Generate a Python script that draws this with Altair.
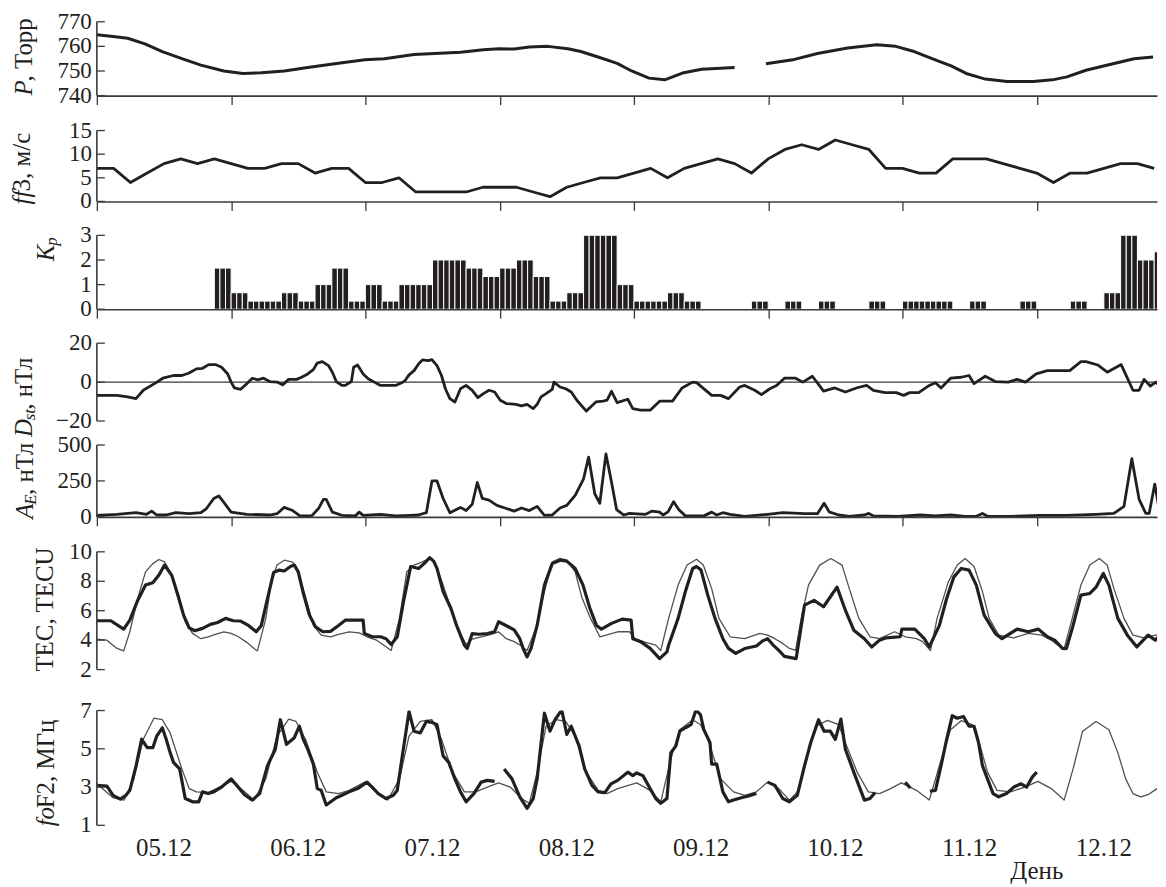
import altair as alt
import pandas as pd

# ---------------- data (time in hours from 05.12 00 UT) ----------------
DAY_LABELS = ['05.12', '06.12', '07.12', '08.12', '09.12', '10.12', '11.12', '12.12']
X_TITLE = 'День'

P_SEG1 = [(0.0, 764.7), (2.9, 764.0), (5.5, 763.3), (8.6, 761.0), (11.7, 757.9), (15.2, 755.0), (18.6, 752.4),
          (22.7, 750.0), (26.1, 749.0), (29.4, 749.3), (33.5, 750.0), (37.7, 751.4), (42.5, 752.9), (47.9, 754.6),
          (51.4, 755.0), (56.7, 756.7), (65.0, 757.6), (69.1, 758.6), (71.9, 759.0), (74.6, 758.9), (77.3, 759.7),
          (80.6, 760.0), (84.2, 759.0), (86.5, 757.9), (89.6, 755.7), (93.0, 753.1), (95.6, 750.0), (98.7, 747.1),
          (101.5, 746.4), (104.9, 749.3), (108.1, 750.7), (111.5, 751.1), (114.0, 751.4)]
P_SEG2 = [(119.6, 752.9), (124.7, 754.7), (128.8, 757.1), (134.2, 759.3), (139.4, 760.7), (142.8, 760.0),
          (146.1, 757.9), (150.1, 754.3), (152.7, 752.1), (155.4, 749.0), (158.8, 746.7), (162.7, 745.7),
          (167.4, 745.7), (170.8, 746.4), (173.4, 747.6), (176.8, 750.3), (180.7, 752.4), (185.4, 755.0),
          (188.8, 755.7)]

# wind speed, 3-hourly
FF3 = [7, 7, 4, 6, 8, 9, 8, 9, 8, 7, 7, 8, 8, 6, 7, 7, 4, 4, 5, 2, 2, 2, 2, 3, 3, 3, 2, 1, 3, 4,
       5, 5, 6, 7, 5, 7, 8, 9, 8, 6, 9, 11, 12, 11, 13, 12, 11, 7, 7, 6, 6, 9, 9, 9, 8, 7, 6, 4, 6, 6,
       7, 8, 8, 7]

# Kp, 3-hourly
KP = [0, 0, 0, 0, 0, 0, 0, 1.67, 0.67, 0.33, 0.33, 0.67, 0.33, 1.0, 1.67, 0.33, 1.0, 0.33, 1.0, 1.0,
      2.0, 2.0, 1.67, 1.33, 1.67, 2.0, 1.33, 0.33, 0.67, 3.0, 3.0, 1.0, 0.33, 0.33, 0.67, 0.33,
      0, 0, 0, 0.33, 0, 0.33, 0, 0.33, 0, 0, 0.33, 0, 0.33, 0.33, 0.33, 0, 0.33, 0, 0, 0.33, 0, 0,
      0.33, 0, 0.67, 3.0, 2.0, 2.33]

DST = [(0.0, -6.8), (3.6, -6.8), (5.5, -7.6), (7.0, -8.5), (8.3, -4.2), (10.3, -0.8), (11.8, 2), (13.7, 3.4),
       (15.2, 3.4), (16.5, 4.7), (17.8, 6.8), (18.9, 7.1), (20.0, 9), (21.2, 9), (22.3, 7.6), (23.4, 4.2),
       (24.0, 0), (24.6, -3), (25.7, -3.7), (26.8, -0.8), (27.8, 2), (28.7, 1.2), (29.8, 2), (30.9, 0.3),
       (32.2, 0), (33.2, -1.4), (34.3, 1.4), (35.7, 1.4), (36.6, 2.5), (37.7, 4.2), (38.7, 6.4), (39.4, 9.8),
       (40.3, 10.5), (41.4, 8.5), (42.1, 5.1), (42.8, 0.3), (43.8, -1.7), (44.4, -1.7), (45.5, 0.3),
       (45.9, 7.6), (46.6, 8.8), (47.6, 4.2), (48.5, 1.7), (49.6, 0), (50.7, -1.7), (52.0, -1.7),
       (53.4, -1.7), (54.4, -0.5), (55.1, 0.8), (55.8, 3.7), (56.7, 5.9), (57.5, 9.3), (58.2, 11.4),
       (59.2, 11), (59.9, 11.5), (60.8, 8.5), (61.6, 3.4), (62.3, -3.4), (63.1, -8.5), (64.0, -10.2),
       (65.0, -3.4), (66.0, -1.7), (67.1, -4.2), (68.1, -8), (69.1, -5.9), (70.1, -4.2), (71.1, -5.1),
       (72.1, -9.3), (73.2, -11), (74.9, -11.4), (75.9, -12.2), (76.9, -11.4), (78.0, -13.6), (78.7, -11.4),
       (79.4, -7.6), (80.3, -5.9), (81.4, -3.7), (81.7, 0), (82.8, -2.5), (83.8, -3.4), (84.8, -5.1),
       (85.8, -9.3), (87.5, -14.9), (89.2, -10.2), (90.5, -9.8), (91.2, -9.3), (92.0, -4.7), (93.0, -10.5),
       (94.9, -8.8), (95.8, -13.6), (97.2, -14.4), (98.9, -14.4), (100.6, -9.8), (102.9, -9.8), (104.6, -3),
       (106.5, 0), (107.2, -0.3), (109.9, -6.8), (111.5, -6.8), (112.9, -8.5), (114.9, -2.5), (115.8, -1.7),
       (117.6, -4.2), (118.8, -6.4), (120.3, -3.4), (121.5, -1.7), (122.9, 2), (124.9, 2), (126.2, 0),
       (127.9, 3), (129.9, -4.6), (131.9, -3), (133.8, -5.1), (135.9, -2.9), (137.6, -1.7), (138.8, -4.2),
       (140.9, -5.4), (142.9, -5.4), (144.2, -6.8), (145.3, -5.4), (146.9, -5.4), (148.8, -1.7),
       (149.9, -0.3), (150.9, -3), (152.6, 2), (154.5, 2.5), (155.9, 3.4), (156.8, -0.8), (158.8, 3),
       (160.6, 0.3), (162.9, 0), (164.5, 1.4), (166.0, 0), (167.9, 4.2), (169.9, 5.9), (173.9, 5.9),
       (175.9, 10.5), (176.8, 10.5), (178.9, 8.8), (180.6, 5.1), (183.1, 9), (185.2, -4.2), (186.3, -4.2),
       (187.2, 1.4), (188.3, -2), (189.3, 0), (191.1, -5.1)]

AE = [(0.0, 11), (3.6, 18), (7.0, 29), (8.9, 18), (9.8, 40), (10.7, 13), (12.4, 13), (14.1, 29), (16.5, 22),
      (18.6, 29), (19.6, 58), (20.9, 128), (21.8, 146), (22.6, 106), (24.0, 33), (26.8, 18), (30.9, 13),
      (32.2, 22), (33.5, 66), (35.0, 44), (36.3, 7), (38.4, 7), (39.7, 62), (40.5, 122), (41.0, 122),
      (42.1, 33), (43.8, 11), (46.2, 7), (46.9, 33), (47.6, 11), (50.7, 18), (53.4, 7), (56.1, 11),
      (57.5, 13), (58.9, 29), (59.9, 250), (60.8, 250), (61.9, 128), (63.1, 29), (65.0, 66), (66.0, 44),
      (67.1, 88), (68.0, 239), (68.9, 128), (70.1, 117), (71.5, 80), (73.2, 58), (74.6, 40), (75.9, 62),
      (77.3, 44), (78.7, 73), (80.0, 11), (81.4, 13), (82.8, 62), (84.0, 80), (85.5, 150), (87.0, 265),
      (87.9, 416), (89.0, 161), (89.9, 95), (91.0, 438), (91.9, 261), (92.9, 51), (94.2, 13), (95.2, 24),
      (98.1, 18), (99.2, 40), (100.6, 33), (101.2, 13), (102.1, 35), (103.1, 106), (104.0, 51), (105.2, 7),
      (108.5, 7), (109.9, 33), (110.8, 13), (111.9, 29), (113.2, 18), (115.8, 4), (119.9, 18), (122.6, 29),
      (126.5, 22), (128.8, 22), (130.0, 95), (130.9, 35), (132.6, 13), (134.5, 4), (137.2, 13), (138.0, 24),
      (138.8, 7), (143.2, 4), (147.2, 13), (149.9, 7), (152.6, 13), (155.2, 4), (157.2, 4), (158.3, 24),
      (159.2, 4), (163.3, 4), (168.6, 11), (173.3, 11), (178.6, 18), (181.8, 24), (183.6, 73), (185.0, 405),
      (186.3, 122), (187.5, 24), (188.1, 24), (189.1, 228), (189.8, 73), (191.1, 51)]

TEC_OBS = [(0.0, 5.32), (2.5, 5.32), (4.8, 4.75), (5.9, 5.36), (7.3, 6.7), (8.7, 7.74), (10.0, 7.9), (11.1, 8.42),
           (12.1, 9.1), (13.4, 8.4), (14.5, 7.06), (15.5, 5.7), (16.5, 4.84), (17.5, 4.64), (18.9, 4.8),
           (20.3, 5.07), (21.6, 5.2), (23.0, 5.48), (24.4, 5.32), (25.7, 5.3), (27.1, 5.0), (28.5, 4.57),
           (29.4, 5.0), (30.5, 6.83), (31.6, 8.6), (32.6, 8.76), (33.5, 8.7), (34.6, 9.0), (35.3, 9.1),
           (36.0, 8.64), (36.9, 7.2), (38.0, 5.7), (39.1, 4.9), (40.4, 4.57), (41.8, 4.6), (43.2, 5.0),
           (44.4, 5.36), (46.6, 5.36), (47.6, 5.36), (47.8, 4.46), (49.2, 4.23), (50.7, 4.23), (51.7, 4.1),
           (52.6, 3.7), (53.7, 4.23), (54.8, 6.6), (56.1, 9.0), (57.5, 8.87), (58.5, 9.2), (59.5, 9.6),
           (60.2, 9.37), (60.8, 8.87), (61.9, 7.3), (63.3, 6.15), (64.3, 5.0), (65.7, 3.66), (66.2, 3.43),
           (67.1, 4.45), (68.3, 4.4), (69.8, 4.45), (71.1, 4.57), (71.8, 5.25), (73.2, 4.98), (74.6, 4.7),
           (75.6, 4.1), (76.2, 3.43), (76.9, 2.86), (77.6, 3.43), (78.7, 5.0), (80.0, 7.74), (81.4, 9.2),
           (82.8, 9.43), (84.0, 9.37), (85.5, 8.87), (86.9, 7.74), (88.1, 6.2), (89.3, 5.0), (90.2, 4.75),
           (92.0, 5.14), (93.9, 5.43), (95.5, 5.36), (95.8, 4.1), (97.2, 3.9), (98.9, 3.44), (100.6, 2.75),
           (101.9, 3.2), (102.2, 3.66), (103.9, 5.48), (105.2, 7.3), (106.5, 8.87), (107.2, 9.0), (108.0, 8.76),
           (109.2, 7.06), (110.5, 5.48), (111.9, 4.1), (112.9, 3.44), (114.2, 3.1), (115.8, 3.43), (117.9, 3.6),
           (119.0, 3.95), (119.9, 4.1), (120.8, 3.7), (121.9, 3.3), (122.9, 2.9), (125.0, 2.75), (126.5, 6.38),
           (128.2, 6.7), (129.9, 6.27), (132.3, 7.6), (133.9, 5.93), (135.3, 4.68), (137.2, 4.1), (138.5, 3.54),
           (139.9, 4.0), (141.1, 4.16), (143.6, 4.23), (143.9, 4.75), (146.2, 4.75), (147.9, 4.1), (148.8, 3.54),
           (150.6, 5.0), (151.9, 6.83), (153.2, 8.3), (154.5, 8.87), (155.9, 8.76), (157.2, 7.74), (158.6, 5.7),
           (160.6, 4.46), (161.8, 4.1), (164.5, 4.75), (166.5, 4.57), (168.3, 4.75), (169.9, 4.23), (171.2, 4.0),
           (172.6, 3.44), (173.3, 3.43), (174.5, 5.0), (175.9, 7.06), (177.5, 7.17), (178.6, 7.6), (179.9, 8.53),
           (180.9, 7.74), (182.5, 5.48), (184.2, 4.34), (185.9, 3.54), (187.9, 4.34), (189.2, 4.0), (190.2, 4.46),
           (191.1, 4.57)]

TEC_MED = [(0.0, 4.07), (1.8, 4.0), (3.6, 3.44), (4.8, 3.27), (5.9, 4.57), (7.3, 6.83), (8.7, 8.64), (10.0, 9.2),
           (11.1, 9.48), (12.1, 9.32), (13.1, 8.64), (14.5, 6.83), (15.8, 5.25), (17.1, 4.46), (18.6, 4.1),
           (19.9, 4.23), (21.2, 4.4), (22.7, 4.57), (24.0, 4.46), (25.3, 4.23), (26.8, 3.85), (28.1, 3.44),
           (28.7, 3.27), (30.2, 5.48), (31.2, 7.96), (32.2, 9.1), (33.5, 9.43), (35.0, 9.3), (36.3, 8.3),
           (37.7, 6.38), (38.7, 5.0), (40.1, 4.34), (41.8, 4.23), (43.2, 4.4), (45.1, 4.57), (46.9, 4.5),
           (48.3, 4.23), (50.0, 4.0), (51.3, 3.66), (52.6, 3.3), (54.1, 5.48), (55.4, 8.64), (56.7, 9.1),
           (58.2, 9.32), (59.5, 9.55), (60.5, 9.2), (61.9, 7.74), (63.3, 6.15), (64.6, 4.8), (65.2, 4.3),
           (66.0, 3.7), (67.1, 4.07), (68.7, 4.23), (70.5, 4.4), (71.8, 4.57), (73.2, 4.1), (74.6, 3.9),
           (75.9, 3.6), (76.9, 3.3), (78.7, 5.0), (80.0, 7.3), (81.4, 9.32), (82.8, 9.55), (84.0, 9.43),
           (85.5, 8.64), (86.7, 6.9), (88.1, 5.6), (89.9, 4.23), (93.1, 4.57), (95.2, 4.57), (96.2, 4.1),
           (98.1, 3.85), (99.9, 3.66), (100.8, 3.3), (102.2, 5.48), (103.9, 7.74), (105.5, 9.1), (107.2, 9.5),
           (108.4, 9.1), (109.9, 7.5), (111.2, 5.48), (113.2, 4.23), (115.8, 4.1), (118.5, 4.46), (119.9, 4.34),
           (121.2, 4.1), (122.6, 3.78), (123.8, 3.44), (124.9, 3.3), (125.9, 5.48), (127.2, 7.74), (129.2, 9.1),
           (131.2, 9.55), (133.2, 9.1), (134.5, 7.5), (136.2, 5.48), (138.2, 4.23), (139.9, 4.1), (142.6, 4.57),
           (144.5, 4.23), (146.5, 4.1), (147.6, 3.9), (149.0, 3.3), (150.2, 5.48), (152.2, 7.96), (153.8, 9.1),
           (155.2, 9.55), (156.8, 9.0), (158.3, 7.3), (159.5, 5.48), (161.2, 4.34), (163.9, 4.16), (166.5, 4.46),
           (168.9, 4.34), (170.6, 4.0), (171.8, 3.66), (172.9, 3.43), (174.5, 5.7), (175.9, 7.74), (177.5, 9.1),
           (179.2, 9.55), (180.6, 9.1), (181.8, 7.5), (183.6, 5.48), (185.2, 4.34), (187.2, 4.16), (189.2, 4.34),
           (191.1, 4.57)]

FOF2_OBS = [
    [(0.0, 3.09), (1.8, 3.05), (2.9, 2.57), (4.2, 2.37), (5.2, 2.57), (5.9, 2.83), (7.0, 4.1), (8.0, 5.5),
     (9.0, 5.06), (10.0, 5.06), (10.7, 5.66), (11.7, 6.1), (12.4, 5.5), (13.1, 4.8), (13.7, 4.29), (14.8, 3.95),
     (15.8, 2.4), (17.1, 2.23), (18.2, 2.23), (18.9, 2.75), (19.9, 2.66), (20.9, 2.75), (22.3, 3.0), (24.0, 3.43),
     (25.0, 3.09), (26.4, 2.6), (27.8, 2.32), (29.1, 2.66), (30.5, 4.12), (31.9, 4.98), (32.8, 6.52), (33.9, 5.23),
     (35.3, 5.58), (36.2, 6.18), (36.9, 5.5), (37.7, 4.98), (38.7, 4.2), (39.4, 2.92), (40.1, 2.83), (41.0, 2.06),
     (42.8, 2.44), (43.8, 2.57), (45.1, 2.75), (46.6, 2.92), (48.3, 3.26), (49.2, 3.0), (50.3, 2.66), (51.7, 2.4),
     (53.0, 2.57), (53.7, 2.83), (54.6, 4.63), (55.8, 6.95), (56.7, 5.92), (57.8, 5.83), (58.9, 6.43), (59.9, 6.38),
     (60.8, 6.26), (61.9, 4.63), (62.9, 4.29), (64.0, 3.43), (65.0, 2.75), (66.0, 2.23), (67.4, 2.66), (68.7, 3.26),
     (69.8, 3.35), (71.1, 3.3)],
    [(72.8, 3.95), (74.2, 3.43), (75.6, 2.49), (76.9, 1.89), (78.0, 2.4), (78.7, 3.43), (80.0, 6.86), (81.0, 5.92),
     (81.9, 6.52), (83.1, 7.03), (84.0, 5.75), (84.8, 6.18), (86.2, 5.15), (87.2, 3.95), (88.5, 3.09), (89.6, 2.75),
     (90.8, 2.71), (91.9, 3.17), (93.1, 3.35), (94.9, 3.78), (95.8, 3.6), (96.5, 3.74), (97.6, 3.6), (98.9, 2.92),
     (99.9, 2.4), (100.8, 2.15), (101.9, 2.4), (102.6, 4.8), (103.5, 5.15), (104.2, 5.92), (105.2, 6.1),
     (106.2, 6.26), (107.1, 7.03), (107.9, 6.78), (108.5, 6.0), (109.6, 5.32), (109.9, 4.2), (110.8, 4.2),
     (111.9, 2.75), (112.9, 2.23), (113.8, 2.32), (115.2, 2.44), (116.5, 2.54), (117.9, 2.66)],
    [(119.9, 3.26), (121.2, 3.09), (122.6, 2.4), (123.8, 2.23), (125.2, 2.57), (126.5, 4.12), (127.6, 5.32),
     (129.0, 6.52), (130.0, 5.92), (131.1, 5.92), (132.0, 5.49), (133.0, 6.55), (133.8, 4.98), (135.3, 3.78),
     (136.2, 3.09), (137.2, 2.32), (138.2, 2.4), (139.1, 2.71)],
    [(144.5, 3.25), (145.4, 2.95)],
    [(148.9, 2.78), (149.9, 2.83), (150.9, 4.12), (151.9, 5.49), (152.9, 6.73), (153.8, 6.6), (154.9, 6.69),
     (155.9, 6.18), (156.8, 6.18), (157.6, 5.32), (158.3, 4.12), (159.2, 3.43), (160.2, 2.66), (161.2, 2.49),
     (162.6, 2.66), (163.9, 3.0), (165.2, 3.17), (166.2, 3.0), (167.2, 3.52), (168.0, 3.78)],
]

FOF2_MED = [(0.0, 3.17), (2.9, 2.44), (4.9, 2.32), (6.6, 3.43), (8.3, 5.5), (10.2, 6.6), (11.7, 6.52), (13.1, 5.83),
            (15.2, 3.95), (16.5, 2.92), (17.8, 2.75), (19.9, 2.71), (21.9, 3.0), (24.0, 3.3), (26.1, 2.83),
            (28.1, 2.32), (30.2, 3.43), (32.2, 5.66), (34.3, 6.55), (35.6, 6.43), (37.3, 5.5), (39.4, 3.77),
            (41.0, 2.75), (43.2, 2.66), (45.1, 2.83), (47.9, 3.26), (50.0, 2.75), (52.0, 2.32), (54.1, 3.43),
            (55.8, 5.66), (57.8, 6.43), (59.9, 6.52), (61.6, 5.5), (63.6, 3.77), (65.7, 2.75), (67.7, 2.75),
            (69.8, 3.0), (71.8, 3.22), (73.9, 3.0), (75.9, 2.4), (77.3, 2.15), (78.7, 3.77), (80.3, 6.18),
            (82.1, 6.52), (83.8, 6.43), (85.5, 5.66), (87.5, 3.77), (89.6, 2.83), (91.2, 2.66), (93.1, 2.92),
            (96.5, 3.22), (98.9, 2.83), (100.8, 2.23), (102.6, 4.46), (104.2, 6.0), (106.5, 6.52), (107.9, 6.26),
            (109.2, 5.5), (111.5, 3.43), (113.8, 2.75), (115.8, 2.57), (117.9, 2.75), (119.9, 3.26), (121.9, 2.92),
            (123.8, 2.32), (125.2, 2.75), (126.9, 4.46), (128.5, 6.18), (130.6, 6.49), (132.6, 6.26), (133.8, 5.32),
            (135.9, 3.78), (137.9, 2.75), (139.9, 2.66), (141.9, 2.92), (143.8, 3.22), (146.5, 2.83), (148.8, 2.32),
            (150.6, 4.12), (152.6, 6.0), (154.5, 6.47), (156.5, 6.26), (157.9, 5.15), (159.2, 3.78), (160.9, 2.83),
            (163.3, 2.75), (165.9, 3.0), (168.2, 3.3), (170.6, 2.92), (172.9, 2.32), (174.5, 3.95), (176.2, 5.92),
            (178.6, 6.43), (180.9, 6.0), (182.5, 4.8), (183.9, 3.43), (185.2, 2.66), (186.6, 2.49), (187.9, 2.6),
            (189.5, 2.92), (191.1, 3.17)]

# y tick values of each panel
YT_P = [740, 750, 760, 770]
YT_FF = [0, 5, 10, 15]
YT_KP = [0, 1, 2, 3]
YT_DST = [-20, 0, 20]
YT_AE = [0, 250, 500]
YT_TEC = [2, 4, 6, 8, 10]
YT_FO = [1, 3, 5, 7]

# axis titles: (text, italic, subscript)
T_P = [('P', True, False), (', Торр', False, False)]
T_FF = [('ff', True, False), ('3, м/с', False, False)]
T_KP = [('K', True, False), ('p', True, True)]
T_DST = [('D', True, False), ('st', True, True), (', нТл', False, False)]
T_AE = [('A', True, False), ('E', True, True), (', нТл', False, False)]
T_TEC = [('TEC, TECU', False, False)]
T_FO = [('fo', True, False), ('F2, МГц', False, False)]

# ---------------- style / layout ----------------
W = 1062                 # plot width; 134.5 px per day
XMAX = 189.5             # hours shown (the page ends here)
FONT = 'Liberation Serif'
FS = 25                  # titles, day labels
LFS = 23                 # y tick labels
SUB = 17
INK = '#231f20'
AX = '#3a3a3a'
THIN = '#505050'

NORMAL_W = {'T': 611, 'E': 611, 'C': 667, 'U': 722, 'F': 556, '2': 500, '3': 500, ',': 250, ' ': 250, '/': 278,
            'Т': 611, 'о': 500, 'р': 500, 'м': 629, 'с': 444, 'н': 524, 'Л': 667, 'л': 515, 'М': 889,
            'Г': 578, 'ц': 520}
ITALIC_W = {'P': 611, 'f': 278, 'K': 667, 'p': 500, 'D': 722, 's': 389, 't': 278, 'A': 611, 'E': 611, 'o': 500}

xs = alt.Scale(domain=[0, XMAX], nice=False, zero=False)
XT = [24 * i for i in range(len(DAY_LABELS))]


def pairs_df(pairs, seg=0):
    return pd.DataFrame({'t': [p[0] for p in pairs], 'v': [p[1] for p in pairs], 'seg': seg})


def yscale(dom, h):
    return alt.Scale(domain=dom, range=[h, 0], nice=False, zero=False)


def xaxis(gap):
    return alt.Axis(values=XT, orient='bottom', offset=-gap, grid=False, domainColor=AX, domainWidth=1.6,
                    tickSize=9, tickColor=AX, tickWidth=1.3, title=None, labels=False, zindex=1)


def yaxis_layers(vals, ys):
    """hand-made y axis: vertical line, inward ticks and labels"""
    lo, hi = min(vals), max(vals)
    dom = alt.Chart(pd.DataFrame({'a': [lo], 'b': [hi]})).mark_rule(color=AX, strokeWidth=1.6).encode(
        y=alt.Y('a:Q', scale=ys, axis=None), y2='b:Q', x=alt.value(0))
    tk = alt.Chart(pd.DataFrame({'v': vals})).mark_rule(color=AX, strokeWidth=1.3).encode(
        y=alt.Y('v:Q', scale=ys, axis=None), x=alt.value(0), x2=alt.value(8))
    lab_df = pd.DataFrame({'v': vals, 'lab': [str(v).replace('-', '\u2212') for v in vals]})
    lab = alt.Chart(lab_df).mark_text(align='right', baseline='middle', font=FONT, fontSize=LFS,
                                      color=INK).encode(
        y=alt.Y('v:Q', scale=ys, axis=None), x=alt.value(-5), text='lab:N')
    return [dom, tk, lab]


def title_layers(parts, x_rel, y_rel):
    out = []
    dx = 0.0
    for text, italic, sub in parts:
        size = SUB if sub else FS
        table = ITALIC_W if italic else NORMAL_W
        w = sum(table.get(c, 550) for c in text) * size / 1000.0
        out.append(alt.Chart(pd.DataFrame({'s': [text]})).mark_text(
            angle=270, align='left', baseline='middle', font=FONT, fontSize=size,
            fontStyle='italic' if italic else 'normal', color=INK, dx=dx, dy=6 if sub else 0
        ).encode(x=alt.value(x_rel), y=alt.value(y_rel), text='s:N'))
        dx += w * (0.93 if italic else 1.0)
    return out


def line(df, width, color=INK, axis=None, ys=None, detail=False):
    enc = dict(x=alt.X('t:Q', scale=xs, axis=axis), y=alt.Y('v:Q', scale=ys, axis=None))
    if detail:
        enc['detail'] = 'seg:N'
    return alt.Chart(df).mark_line(color=color, strokeWidth=width, strokeJoin='round', clip=True).encode(**enc)


# ---- P ----
ysP = yscale([740, 770], 74)
dfP = pd.concat([pairs_df(P_SEG1, 0), pairs_df(P_SEG2, 1)])
pP = alt.layer(
    line(dfP, 3, axis=xaxis(35), ys=ysP, detail=True),
    *yaxis_layers(YT_P, ysP),
    *title_layers(T_P, -73, 74)
).properties(width=W, height=74 + 35)

# ---- ff3 ----
ysF = yscale([0, 15], 71)
dfF = pd.DataFrame({'t': [3 * k for k in range(len(FF3))], 'v': FF3})
pF = alt.layer(
    line(dfF, 2.8, axis=xaxis(34), ys=ysF),
    *yaxis_layers(YT_FF, ysF),
    *title_layers(T_FF, -75, 74)
).properties(width=W, height=71 + 34)

# ---- Kp ----
ysK = yscale([0, 3], 74)
rows = []
for k, v in enumerate(KP):
    if v > 0:
        for j in range(3):
            h = 3 * k + j
            rows.append({'t0': h, 't1': h + 1, 'v': v, 'z': 0})
dfK = pd.DataFrame(rows)
pK = alt.layer(
    alt.Chart(dfK).mark_rect(color=INK, stroke='white', strokeWidth=1, clip=True).encode(
        x=alt.X('t0:Q', scale=xs, axis=xaxis(34)), x2='t1:Q',
        y=alt.Y('v:Q', scale=ysK, axis=None), y2='z:Q'),
    *yaxis_layers(YT_KP, ysK),
    *title_layers(T_KP, -51, 26)
).properties(width=W, height=74 + 34)

# ---- Dst ----
ysD = yscale([-20, 20], 78)
pD = alt.layer(
    alt.Chart(pd.DataFrame({'v': [0]})).mark_rule(color=AX, strokeWidth=1.3).encode(
        y=alt.Y('v:Q', scale=ysD, axis=None)),
    line(pairs_df(DST), 2.8, ys=ysD),
    *yaxis_layers(YT_DST, ysD),
    *title_layers(T_DST, -73, 94)
).properties(width=W, height=78 + 24)

# ---- AE ----
ysA = yscale([0, 500], 72)
pA = alt.layer(
    line(pairs_df(AE), 2.8, axis=xaxis(35), ys=ysA),
    *yaxis_layers(YT_AE, ysA),
    *title_layers(T_AE, -72, 74)
).properties(width=W, height=72 + 35)

# ---- TEC ----
ysT = yscale([2, 10], 118)
pT = alt.layer(
    line(pairs_df(TEC_MED), 1.3, color=THIN, axis=xaxis(41), ys=ysT),
    line(pairs_df(TEC_OBS), 3.2, ys=ysT),
    *yaxis_layers(YT_TEC, ysT),
    *title_layers(T_TEC, -52, 120)
).properties(width=W, height=118 + 41)

# ---- foF2 ----
ysO = yscale([1, 7], 115)
dfO = pd.concat([pairs_df(seg, i) for i, seg in enumerate(FOF2_OBS)])
day_df = pd.DataFrame({'t': [24 * i + 12 for i in range(len(DAY_LABELS))], 'lab': DAY_LABELS})
pO = alt.layer(
    line(pairs_df(FOF2_MED), 1.3, color=THIN, axis=xaxis(0), ys=ysO),
    line(dfO, 3.2, ys=ysO, detail=True),
    *yaxis_layers(YT_FO, ysO),
    alt.Chart(day_df).mark_text(align='center', baseline='middle', font=FONT, fontSize=FS, color=INK).encode(
        x=alt.X('t:Q', scale=xs, axis=None), y=alt.value(138), text='lab:N'),
    alt.Chart(pd.DataFrame({'t': [XT[-1]], 'lab': [X_TITLE]})).mark_text(
        align='center', baseline='middle', font=FONT, fontSize=FS, color=INK).encode(
        x=alt.X('t:Q', scale=xs, axis=None), y=alt.value(161), text='lab:N'),
    *title_layers(T_FO, -51, 116)
).properties(width=W, height=115)

chart = alt.vconcat(pP, pF, pK, pD, pA, pT, pO, spacing=0, bounds='flush').properties(
    padding={'left': 2, 'top': 2, 'right': 0, 'bottom': 0}, background='white'
).configure_view(stroke=None)

chart.save('out.html', embed_options={'renderer': 'svg', 'actions': False})
